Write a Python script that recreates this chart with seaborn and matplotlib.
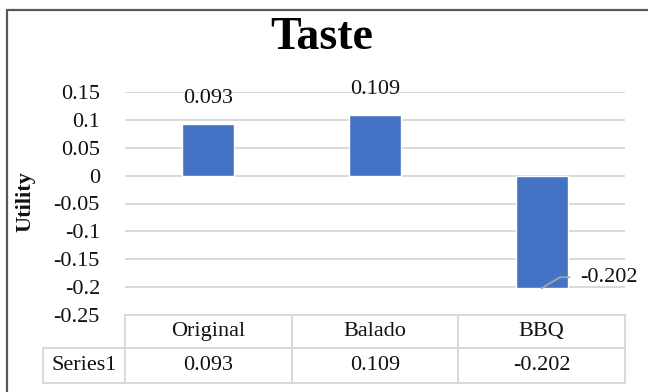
import numpy as np
import pandas as pd
import matplotlib
matplotlib.use("Agg")
import matplotlib.pyplot as plt
from matplotlib.lines import Line2D
import seaborn as sns

# Chart data
categories = ["Original", "Balado", "BBQ"]
utility = [0.093, 0.109, -0.202]
value_labels = ["0.093", "0.109", "-0.202"]
series_name = "Series1"
y_ticks = [-0.25, -0.2, -0.15, -0.1, -0.05, 0.0, 0.05, 0.1, 0.15]
y_tick_labels = ["-0.25", "-0.2", "-0.15", "-0.1", "-0.05", "0", "0.05", "0.1", "0.15"]

BAR_COLOR = "#4472C4"
GRID_COLOR = "#D9D9D9"
TEXT_COLOR = "#111111"
SERIF = ["Liberation Serif", "DejaVu Serif"]
FS = 16

sns.set_theme(style="white")
plt.rcParams["font.family"] = SERIF

W, H = 648, 392
fig = plt.figure(figsize=(W / 100, H / 100), dpi=100)

# outer chart frame: top and left edges (the rest runs off the canvas)
frame_x, frame_y = 7 / W, 1 - 10 / H
for xs, ys in (([frame_x, 1.0], [frame_y, frame_y]), ([frame_x, frame_x], [0.0, frame_y])):
    fig.add_artist(Line2D(xs, ys, transform=fig.transFigure,
                          color="#595959", linewidth=1.6))

ax_left, ax_right, ax_top, ax_bottom = 125, 625, 92, 315
ax = fig.add_axes([ax_left / W, 1 - ax_bottom / H,
                   (ax_right - ax_left) / W, (ax_bottom - ax_top) / H])

df = pd.DataFrame({"category": categories, "utility": utility})
sns.barplot(data=df, x="category", y="utility", color=BAR_COLOR,
            saturation=1, width=0.313, ax=ax, zorder=3)

ax.set_xlim(-0.5, len(categories) - 0.5)
ax.set_ylim(y_ticks[0], y_ticks[-1])
ax.set_yticks(y_ticks)
ax.set_yticklabels(y_tick_labels)
ax.yaxis.grid(True, color=GRID_COLOR, linewidth=1.4)
ax.set_axisbelow(True)
for s in ax.spines.values():
    s.set_visible(False)
ax.tick_params(axis="y", length=0, pad=18, labelsize=FS, labelcolor=TEXT_COLOR)
ax.tick_params(axis="x", length=0, labelbottom=False)
ax.set_xlabel("")
ax.set_ylabel("Utility", fontsize=16, fontweight="bold", color=TEXT_COLOR)
ax.yaxis.set_label_coords((35 - ax_left) / (ax_right - ax_left),
                          (ax_bottom - 202) / (ax_bottom - ax_top))

# value labels
for i, (v, lab) in enumerate(zip(utility, value_labels)):
    if v >= 0:
        ax.annotate(lab, xy=(i, v), xytext=(0, 25), textcoords="offset pixels",
                    ha="center", va="center", fontsize=FS, color=TEXT_COLOR)
    else:
        ax.annotate(lab, xy=(i, v), xytext=(38, 11), textcoords="offset pixels",
                    ha="left", va="center", fontsize=FS, color=TEXT_COLOR,
                    annotation_clip=False,
                    arrowprops=dict(arrowstyle="-", color="#A6A6A6", lw=1.3,
                                    relpos=(0, 0.5), shrinkA=5, shrinkB=0,
                                    connectionstyle="angle,angleA=0,angleB=31,rad=0"))

# data table below the plot
ax_h = ax_bottom - ax_top
row1 = (315 - 348) / ax_h
row2 = (315 - 383) / ax_h
left_label = (43 - ax_left) / (ax_right - ax_left)
tx = ax.get_xaxis_transform()
line_kw = dict(color=GRID_COLOR, linewidth=1.4, clip_on=False)

x_edges = np.arange(len(categories) + 1) - 0.5
ax.plot([x_edges[0], x_edges[-1]], [0, 0], transform=tx, **line_kw)
ax.plot([x_edges[0], x_edges[-1]], [row1, row1], transform=tx, **line_kw)
ax.plot([x_edges[0], x_edges[-1]], [row2, row2], transform=tx, **line_kw)
for xe in x_edges:
    ax.plot([xe, xe], [0, row2], transform=tx, **line_kw)

ta = ax.transAxes
ax.plot([left_label, 0], [row1, row1], transform=ta, **line_kw)
ax.plot([left_label, 0], [row2, row2], transform=ta, **line_kw)
ax.plot([left_label, left_label], [row1, row2], transform=ta, **line_kw)

for i, (c, lab) in enumerate(zip(categories, value_labels)):
    ax.text(i, row1 / 2, c, transform=tx, ha="center", va="center",
            fontsize=FS, color=TEXT_COLOR)
    ax.text(i, (row1 + row2) / 2, lab, transform=tx, ha="center", va="center",
            fontsize=FS, color=TEXT_COLOR)
ax.text(left_label / 2, (row1 + row2) / 2, series_name, transform=ta,
        ha="center", va="center", fontsize=FS, color=TEXT_COLOR)

fig.text(322 / W, 1 - 38 / H, "Taste", ha="center", va="center",
         fontsize=33, fontweight="bold", color="black")

fig.savefig("out.png", dpi=100)
